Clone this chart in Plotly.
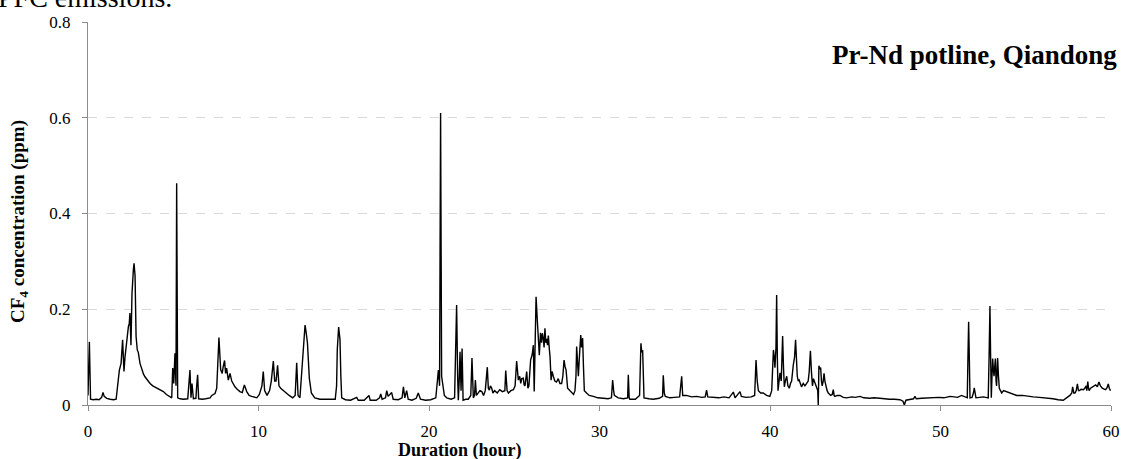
import plotly.graph_objects as go

# CF4 concentration readings (hour, ppm)
hours = [
    0.0, 0.08, 0.15, 0.3, 0.5, 0.65, 0.8, 0.88, 0.95, 1.1,
    1.3, 1.5, 1.65, 1.75, 1.84, 1.94, 2.03, 2.08, 2.11, 2.17,
    2.22, 2.27, 2.32, 2.37, 2.42, 2.46, 2.52, 2.58, 2.66, 2.7,
    2.76, 2.82, 2.89, 2.95, 3.05, 3.15, 3.25, 3.34, 3.5, 3.64,
    3.8, 4.03, 4.2, 4.3, 4.42, 4.6, 4.81, 4.91, 4.97, 5.03,
    5.1, 5.16, 5.2, 5.26, 5.4, 5.6, 5.85, 5.98, 6.04, 6.1,
    6.18, 6.33, 6.37, 6.43, 6.49, 6.7, 6.9, 7.16, 7.26, 7.45,
    7.55, 7.68, 7.78, 7.87, 7.93, 8.01, 8.07, 8.13, 8.23, 8.33,
    8.43, 8.62, 8.75, 8.91, 9.05, 9.17, 9.31, 9.45, 9.6, 9.9,
    10.05, 10.2, 10.28, 10.36, 10.5, 10.65, 10.75, 10.87, 10.95, 11.03,
    11.12, 11.2, 11.3, 11.46, 11.6, 11.8, 12.0, 12.15, 12.24, 12.32,
    12.43, 12.57, 12.65, 12.73, 12.8, 12.87, 12.93, 12.98, 13.1, 13.3,
    13.6, 13.9, 14.2, 14.5, 14.58, 14.62, 14.7, 14.74, 14.78, 14.83,
    14.88, 15.1, 15.4, 15.76, 15.85, 16.2, 16.48, 16.55, 16.9, 17.1,
    17.17, 17.25, 17.45, 17.52, 17.6, 17.81, 17.9, 18.2, 18.42, 18.5,
    18.58, 18.69, 18.78, 19.0, 19.25, 19.37, 19.5, 19.8, 20.1, 20.4,
    20.55, 20.62, 20.68, 20.74, 20.8, 20.9, 21.04, 21.3, 21.5, 21.62,
    21.68, 21.72, 21.77, 21.82, 21.88, 21.94, 22.0, 22.15, 22.3, 22.45,
    22.52, 22.6, 22.67, 22.72, 22.78, 22.9, 22.99, 23.1, 23.2, 23.3,
    23.42, 23.48, 23.54, 23.6, 23.68, 23.75, 23.85, 24.0, 24.15, 24.3,
    24.45, 24.5, 24.58, 24.66, 24.8, 24.95, 25.05, 25.14, 25.2, 25.24,
    25.32, 25.38, 25.44, 25.53, 25.58, 25.63, 25.73, 25.8, 25.86, 25.96,
    26.05, 26.12, 26.17, 26.22, 26.28, 26.35, 26.41, 26.47, 26.54, 26.6,
    26.65, 26.7, 26.75, 26.8, 26.85, 26.9, 26.95, 27.0, 27.05, 27.1,
    27.16, 27.22, 27.29, 27.38, 27.48, 27.58, 27.68, 27.78, 27.85, 27.92,
    27.98, 28.04, 28.13, 28.25, 28.37, 28.48, 28.56, 28.62, 28.66, 28.71,
    28.76, 28.82, 28.9, 28.95, 29.01, 29.06, 29.11, 29.24, 29.4, 29.64,
    29.9, 30.23, 30.5, 30.7, 30.77, 30.83, 30.87, 31.1, 31.4, 31.65,
    31.69, 31.74, 31.78, 32.1, 32.35, 32.43, 32.48, 32.53, 32.57, 32.61,
    32.9, 33.15, 33.5, 33.7, 33.74, 33.8, 33.86, 34.13, 34.4, 34.7,
    34.82, 34.88, 35.1, 35.4, 35.7, 36.0, 36.2, 36.28, 36.35, 36.7,
    37.0, 37.3, 37.6, 37.85, 37.95, 38.24, 38.32, 38.6, 38.9, 39.1,
    39.18, 39.25, 39.32, 39.45, 39.6, 39.8, 39.99, 40.1, 40.2, 40.25,
    40.29, 40.35, 40.39, 40.43, 40.47, 40.53, 40.59, 40.66, 40.74, 40.79,
    40.84, 40.9, 40.98, 41.05, 41.13, 41.2, 41.27, 41.36, 41.44, 41.5,
    41.55, 41.6, 41.66, 41.71, 41.78, 41.85, 41.95, 42.05, 42.15, 42.24,
    42.3, 42.37, 42.43, 42.49, 42.55, 42.6, 42.67, 42.73, 42.8, 42.83,
    42.87, 42.92, 42.97, 43.02, 43.06, 43.12, 43.17, 43.22, 43.28, 43.35,
    43.42, 43.56, 43.65, 43.71, 43.76, 43.8, 43.95, 44.1, 44.3, 44.49,
    44.8, 45.0, 45.28, 45.5, 45.85, 46.1, 46.44, 46.65, 47.0, 47.3,
    47.62, 47.8, 47.88, 47.97, 48.2, 48.42, 48.5, 48.58, 48.9, 49.2,
    49.6, 49.9, 50.2, 50.56, 50.8, 51.0, 51.24, 51.35, 51.57, 51.61,
    51.65, 51.69, 51.73, 51.85, 51.93, 51.98, 52.03, 52.08, 52.3, 52.51,
    52.65, 52.8, 52.85, 52.9, 52.94, 52.98, 53.02, 53.06, 53.1, 53.14,
    53.18, 53.22, 53.26, 53.29, 53.32, 53.35, 53.4, 53.45, 53.52, 53.59,
    53.7, 53.88, 54.1, 54.3, 54.47, 54.8, 55.1, 55.44, 55.8, 56.22,
    56.6, 56.9, 57.2, 57.39, 57.5, 57.59, 57.7, 57.75, 57.82, 57.89,
    57.96, 58.03, 58.09, 58.15, 58.25, 58.38, 58.46, 58.54, 58.58, 58.64,
    58.68, 58.72, 58.8, 58.9, 59.0, 59.1, 59.2, 59.29, 59.38, 59.49,
    59.6, 59.68, 59.77, 59.84, 59.9, 59.97,
]

cf4_ppm = [
    0.02, 0.132, 0.012, 0.011, 0.012, 0.011, 0.016, 0.026, 0.018, 0.014,
    0.012, 0.011, 0.012, 0.04, 0.073, 0.087, 0.136, 0.095, 0.07, 0.1,
    0.12, 0.14, 0.15, 0.164, 0.17, 0.192, 0.125, 0.233, 0.282, 0.296,
    0.27, 0.143, 0.115, 0.11, 0.087, 0.075, 0.065, 0.059, 0.05, 0.045,
    0.04, 0.035, 0.032, 0.03, 0.028, 0.022, 0.017, 0.015, 0.077, 0.045,
    0.108, 0.04, 0.463, 0.015, 0.013, 0.012, 0.013, 0.073, 0.015, 0.045,
    0.013, 0.014, 0.038, 0.063, 0.013, 0.012, 0.013, 0.015, 0.02, 0.024,
    0.035, 0.141, 0.074, 0.066, 0.08, 0.093, 0.066, 0.077, 0.052, 0.066,
    0.05, 0.038, 0.033, 0.028, 0.026, 0.042, 0.028, 0.02, 0.018, 0.015,
    0.022, 0.04, 0.07, 0.03, 0.02, 0.03, 0.05, 0.092, 0.05, 0.05,
    0.083, 0.04, 0.035, 0.03, 0.025, 0.02, 0.015, 0.02, 0.088, 0.02,
    0.015, 0.09, 0.12, 0.167, 0.15, 0.13, 0.09, 0.056, 0.025, 0.015,
    0.012, 0.012, 0.013, 0.012, 0.04, 0.115, 0.163, 0.14, 0.136, 0.06,
    0.015, 0.011, 0.01, 0.016, 0.01, 0.01, 0.02, 0.01, 0.01, 0.015,
    0.023, 0.012, 0.015, 0.03, 0.018, 0.026, 0.012, 0.011, 0.015, 0.038,
    0.015, 0.03, 0.012, 0.01, 0.014, 0.025, 0.012, 0.01, 0.011, 0.015,
    0.073, 0.04, 0.61, 0.06, 0.04, 0.02, 0.015, 0.012, 0.015, 0.209,
    0.06, 0.01, 0.05, 0.111, 0.03, 0.118, 0.01, 0.012, 0.012, 0.02,
    0.098, 0.015, 0.02, 0.052, 0.02, 0.025, 0.03, 0.028, 0.02, 0.03,
    0.079, 0.035, 0.031, 0.04, 0.035, 0.025, 0.03, 0.025, 0.032, 0.028,
    0.03, 0.072, 0.03, 0.025, 0.03, 0.032, 0.04, 0.092, 0.06, 0.052,
    0.06, 0.045, 0.055, 0.056, 0.042, 0.04, 0.07, 0.035, 0.04, 0.094,
    0.105, 0.125, 0.028, 0.12, 0.226, 0.178, 0.14, 0.104, 0.151, 0.13,
    0.15, 0.14, 0.12, 0.16, 0.13, 0.138, 0.125, 0.145, 0.12, 0.1,
    0.052, 0.07, 0.06, 0.05, 0.048, 0.055, 0.045, 0.045, 0.06, 0.094,
    0.08, 0.073, 0.035, 0.03, 0.025, 0.022, 0.03, 0.06, 0.122, 0.09,
    0.06, 0.1, 0.146, 0.12, 0.14, 0.08, 0.03, 0.025, 0.02, 0.018,
    0.015, 0.014, 0.013, 0.015, 0.052, 0.03, 0.02, 0.015, 0.013, 0.015,
    0.063, 0.015, 0.012, 0.012, 0.02, 0.129, 0.11, 0.115, 0.06, 0.015,
    0.013, 0.012, 0.014, 0.018, 0.062, 0.025, 0.018, 0.015, 0.016, 0.017,
    0.06, 0.02, 0.02, 0.017, 0.018, 0.016, 0.017, 0.031, 0.017, 0.016,
    0.015, 0.017, 0.015, 0.027, 0.015, 0.028, 0.018, 0.016, 0.017, 0.02,
    0.094, 0.05, 0.03, 0.025, 0.025, 0.02, 0.018, 0.03, 0.115, 0.1,
    0.078, 0.12, 0.23, 0.1, 0.03, 0.05, 0.067, 0.05, 0.144, 0.08,
    0.038, 0.05, 0.06, 0.04, 0.035, 0.045, 0.05, 0.082, 0.1, 0.136,
    0.09, 0.06, 0.05, 0.052, 0.045, 0.038, 0.045, 0.04, 0.045, 0.05,
    0.07, 0.113, 0.07, 0.04, 0.055, 0.05, 0.045, 0.04, 0.03, 0.0,
    0.082, 0.075, 0.078, 0.05, 0.04, 0.05, 0.066, 0.05, 0.04, 0.03,
    0.025, 0.02, 0.022, 0.032, 0.02, 0.018, 0.02, 0.02, 0.016, 0.015,
    0.017, 0.016, 0.018, 0.015, 0.014, 0.015, 0.014, 0.013, 0.012, 0.012,
    0.011, 0.008, 0.0, 0.01, 0.012, 0.013, 0.018, 0.013, 0.014, 0.015,
    0.015, 0.016, 0.015, 0.018, 0.017, 0.016, 0.02, 0.018, 0.015, 0.1,
    0.174, 0.1, 0.015, 0.016, 0.025, 0.036, 0.02, 0.015, 0.016, 0.017,
    0.016, 0.015, 0.1, 0.207, 0.1, 0.015, 0.06, 0.097, 0.075, 0.06,
    0.08, 0.097, 0.05, 0.04, 0.07, 0.098, 0.06, 0.035, 0.03, 0.025,
    0.03, 0.028, 0.025, 0.022, 0.02, 0.02, 0.018, 0.017, 0.016, 0.015,
    0.013, 0.011, 0.01, 0.015, 0.018, 0.02, 0.025, 0.038, 0.025, 0.025,
    0.03, 0.044, 0.03, 0.03, 0.033, 0.032, 0.035, 0.04, 0.03, 0.049,
    0.035, 0.03, 0.035, 0.038, 0.04, 0.042, 0.038, 0.048, 0.04, 0.035,
    0.033, 0.032, 0.036, 0.044, 0.035, 0.03,
]

x_ticks = [0, 10, 20, 30, 40, 50, 60]
y_ticks = [0, 0.2, 0.4, 0.6, 0.8]
y_tick_labels = ["0", "0.2", "0.4", "0.6", "0.8"]

assert len(hours) == len(cf4_ppm)

SERIF = "Liberation Serif, Times New Roman, serif"

W, H = 1124, 459
L, T, R, B = 88, 22, 13, 54
PW, PH = W - L - R, H - T - B


def px_x(page_x):
    return (page_x - L) / PW


def px_y(page_y):
    return (H - B - page_y) / PH


fig = go.Figure()
fig.add_trace(go.Scatter(
    x=hours, y=cf4_ppm, mode="lines",
    line=dict(color="black", width=1.4),
    showlegend=False, hoverinfo="skip",
))

fig.update_layout(
    width=W, height=H,
    margin=dict(l=L, r=R, t=T, b=B, autoexpand=False),
    paper_bgcolor="white", plot_bgcolor="white",
    font=dict(family=SERIF, color="black", size=17),
    showlegend=False,
)

fig.update_xaxes(
    range=[0, 60], tickvals=x_ticks, ticktext=[str(v) for v in x_ticks],
    showgrid=False, zeroline=False, automargin=False,
    showline=True, linecolor="#8c8c8c", linewidth=1,
    ticks="outside", ticklen=5, tickcolor="#8c8c8c",
    tickfont=dict(family=SERIF, size=17, color="black"),
    ticklabelstandoff=6,
)
fig.update_yaxes(
    range=[0, 0.8], tickvals=y_ticks, ticktext=y_tick_labels,
    showgrid=True, gridcolor="#d9d9d9", griddash="dash", gridwidth=1,
    zeroline=False, automargin=False,
    showline=True, linecolor="#8c8c8c", linewidth=1,
    ticks="outside", ticklen=5, tickcolor="#8c8c8c",
    tickfont=dict(family=SERIF, size=17, color="black"),
    ticklabelstandoff=8,
)

fig.add_annotation(
    text="<b>Pr-Nd potline, Qiandong</b>",
    xref="paper", yref="paper", x=px_x(1119), y=px_y(55),
    xanchor="right", yanchor="middle", showarrow=False,
    font=dict(family=SERIF, size=27, color="black"),
)
fig.add_annotation(
    text="<b>CF<sub>4</sub> concentration (ppm)</b>",
    xref="paper", yref="paper", x=px_x(19), y=px_y(222),
    xanchor="center", yanchor="middle", textangle=-90, showarrow=False,
    font=dict(family=SERIF, size=19, color="black"),
)
fig.add_annotation(
    text="<b>Duration (hour)</b>",
    xref="paper", yref="paper", x=px_x(460), y=px_y(450),
    xanchor="center", yanchor="middle", showarrow=False,
    font=dict(family=SERIF, size=18, color="black"),
)
fig.add_annotation(
    text="PFC emissions.",
    xref="paper", yref="paper", x=px_x(-4), y=px_y(15),
    xanchor="left", yanchor="bottom", showarrow=False,
    font=dict(family=SERIF, size=28, color="black"),
)

# remove the browser's default 8px body margin so the figure fills the page
fig.write_html(
    "out.html",
    config={"displayModeBar": False, "staticPlot": True},
    post_script="document.body.style.margin='0';",
)
